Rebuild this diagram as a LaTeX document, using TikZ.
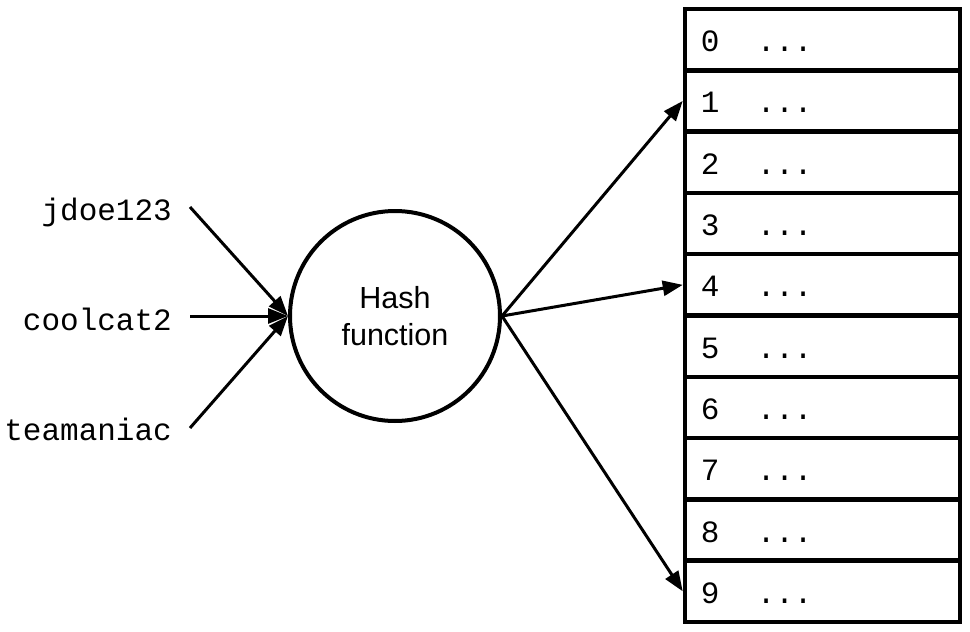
\documentclass[tikz,border=0pt]{standalone}
\usepackage{fontspec}
\setmainfont{Liberation Sans}
\setmonofont{Liberation Mono}
\usetikzlibrary{arrows.meta,calc}
\tikzset{
  cellbox/.style={draw, line width=4.5pt, rectangle, minimum width=275pt, minimum height=61.3pt, inner sep=0pt},
  celltext/.style={anchor=base west, inner sep=0pt, font=\fontsize{31}{36}\selectfont\ttfamily},
  keytext/.style={anchor=base east, inner sep=0pt, font=\fontsize{31}{36}\selectfont\ttfamily},
  hashnode/.style={draw, circle, line width=4pt, minimum size=210pt, inner sep=0pt, align=center, font=\fontsize{30.5}{37}\selectfont},
  conn/.style={line width=3pt, -{Triangle[length=20pt,width=15pt]}}
}
\begin{document}
\begin{tikzpicture}[x=1pt,y=-1pt]
\useasboundingbox (0,0) rectangle (970,632);
% table
\foreach \i in {0,...,9} {
  \node[cellbox] (cell\i) at (822.5, {9+61.3*(\i+0.5)}) {};
  \node[celltext] (lab\i) at ($(cell\i.west)+(18,12)$) {\i\ \ ...};
}
% hash
\node[hashnode] (hash) at (395,316) {Hash\\function};
% keys
\node[keytext] (k1) at (172,220) {jdoe123};
\node[keytext] (k2) at (172,330) {coolcat2};
\node[keytext] (k3) at (172,440) {teamaniac};
\coordinate (s1) at (190,207);
\coordinate (s2) at (190,316);
\coordinate (s3) at (190,428);
\draw[conn] (s1) -- (hash.west);
\draw[conn] (s2) -- (hash.west);
\draw[conn] (s3) -- (hash.west);
\draw[conn] (hash.east) -- (cell1.west);
\draw[conn] (hash.east) -- (cell4.west);
\draw[conn] (hash.east) -- (cell9.west);
\end{tikzpicture}
\end{document}
